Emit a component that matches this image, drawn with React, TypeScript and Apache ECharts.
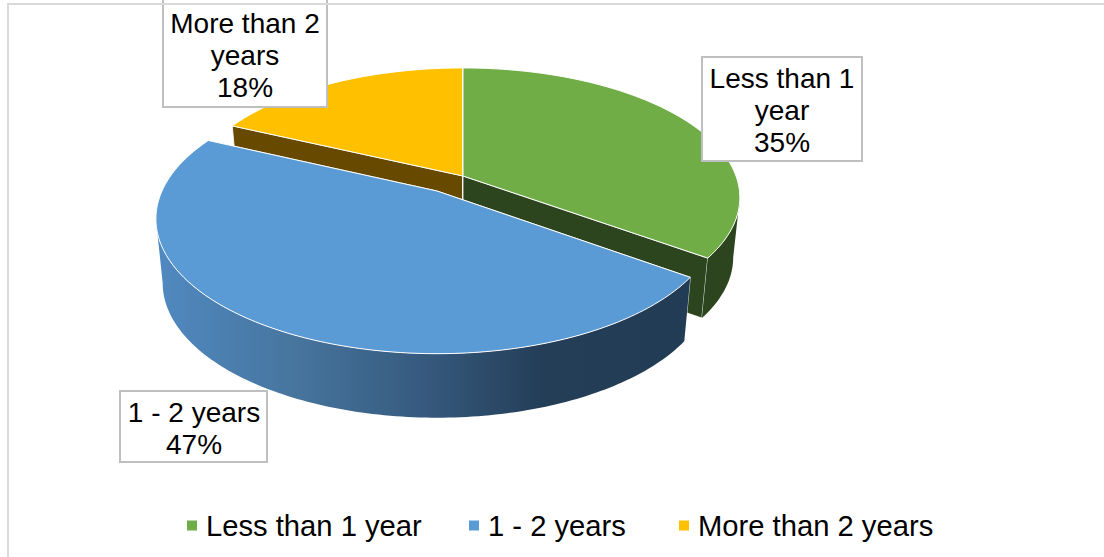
import React, { useEffect, useRef } from "react";
import * as echarts from "echarts";

const sliceNames = ["Less than 1 year", "1 - 2 years", "More than 2 years"];
const sliceValues = [35, 47, 18];
const sliceLabels = ["Less than 1\nyear", "1 - 2 years", "More than 2\nyears"];
const topColors = ["#70ad47", "#5b9bd5", "#ffc000"];
const wallColors = ["#2d451e", "#24405a", "#674a00"];

const FONT = "Liberation Sans";
const BOTTOM_SCALE = 0.976;
// perspective ellipse model, one per exploded position
const geometry = [
  { x: 463, y: 176, depth: 60, k: 0.166, b: 126, c: 273 },
  { x: 437, y: 191, depth: 64, k: 0.207, b: 129, c: 275 },
  { x: 463, y: 176, depth: 60, k: 0.166, b: 126, c: 273 },
];

const total = sliceValues.reduce((a, b) => a + b, 0);

function rim(i: number, deg: number) {
  const g = geometry[i];
  const t = (deg * Math.PI) / 180;
  const u = Math.sin(t);
  const v = -Math.cos(t);
  const d = 1 - g.k * v;
  return [g.x + (g.c * u) / d, g.y + (g.b * v) / d];
}
function down(i: number, p: number[]) {
  const g = geometry[i];
  return [g.x + (p[0] - g.x) * BOTTOM_SCALE, p[1] + g.depth];
}
function arcPoints(i: number, from: number, to: number) {
  const pts: number[][] = [];
  for (let a = from; a < to; a += 1) pts.push(rim(i, a));
  pts.push(rim(i, to));
  return pts;
}

function renderSlice(i: number) {
  return (_params: any, api: any) => {
    const value = api.value(0);
    const before = sliceValues.slice(0, i).reduce((a, b) => a + b, 0);
    const start = (before / total) * 360;
    const end = start + (value / total) * 360;
    const g = geometry[i];
    const arc = arcPoints(i, start, end);
    const apex = [g.x, g.y];
    const edge = "rgba(255,255,255,0.8)";
    const children: any[] = [];

    // radial walls first, so the outer wall covers the part that would show through
    [arc[0], arc[arc.length - 1]].forEach((p) => {
      children.push({
        type: "polygon",
        shape: { points: [apex, p, down(i, p), down(i, apex)] },
        style: { fill: wallColors[i], stroke: edge, lineWidth: 1 },
      });
    });

    // outer wall: only between the silhouette angles, where it faces the viewer
    const sil = (Math.acos(-g.k) * 180) / Math.PI;
    const from = Math.max(start, sil);
    const to = Math.min(end, 360 - sil);
    if (to > from) {
      const top = arcPoints(i, from, to);
      const bottom = top.map((p) => down(i, p)).reverse();
      const wallFill: any =
        i === 1
          ? new echarts.graphic.LinearGradient(0, 0, 1, 0, [
              { offset: 0, color: "#5089c1" },
              { offset: 0.25, color: "#47769f" },
              { offset: 0.5, color: "#365a7e" },
              { offset: 0.72, color: "#243e58" },
              { offset: 1, color: "#233c55" },
            ])
          : wallColors[i];
      children.push({
        type: "polygon",
        shape: { points: [...top, ...bottom] },
        style: { fill: wallFill, stroke: null },
      });
    }

    // top face
    children.push({
      type: "polygon",
      shape: { points: [apex, ...arc] },
      style: { fill: topColors[i], stroke: "#ffffff", lineWidth: 1 },
    });
    return { type: "group", children };
  };
}

const labelBoxes = [
  { x: 702, y: 57, width: 160, height: 104, cx: 782, cy: 110 },
  { x: 120, y: 391, width: 147, height: 71, cx: 194, cy: 428 },
  { x: 163, y: -6, width: 164, height: 113, cx: 245, cy: 55 },
];
const legendLefts = [187, 469, 679];

export default function App() {
  const ref = useRef<HTMLDivElement>(null);
  useEffect(() => {
    document.body.style.margin = "0";
    const chart = echarts.init(ref.current!, undefined, { renderer: "svg" });
    const order = [2, 0, 1];
    const series = order.map((i, n) => ({
      type: "custom",
      name: sliceNames[i],
      coordinateSystem: "none",
      z: 2 + n,
      itemStyle: { color: topColors[i] },
      data: [[sliceValues[i]]],
      renderItem: renderSlice(i),
      silent: true,
    }));
    const graphic: any[] = [
      { type: "line", z: 20, shape: { x1: 8, y1: 4, x2: 1104, y2: 4 }, style: { stroke: "#d9d9d9", lineWidth: 2 } },
      { type: "line", z: 20, shape: { x1: 8, y1: 3, x2: 8, y2: 557 }, style: { stroke: "#d9d9d9", lineWidth: 2 } },
    ];
    labelBoxes.forEach((b, i) => {
      graphic.push({
        type: "rect",
        z: 10,
        shape: { x: b.x, y: b.y, width: b.width, height: b.height },
        style: { fill: "#ffffff", stroke: "#bfbfbf", lineWidth: 2 },
      });
      graphic.push({
        type: "text",
        z: 11,
        x: b.cx,
        y: b.cy,
        style: {
          text: `${sliceLabels[i]}\n${sliceValues[i]}%`,
          fill: "#000000",
          font: `28px "${FONT}"`,
          lineHeight: 32,
          align: "center",
          verticalAlign: "middle",
        },
      });
    });
    chart.setOption({
      animation: false,
      backgroundColor: "#ffffff",
      legend: sliceNames.map((n, i) => ({
        data: [n],
        left: legendLefts[i],
        top: 511,
        padding: 0,
        icon: "rect",
        itemWidth: 10,
        itemHeight: 10,
        selectedMode: false,
        textStyle: { fontFamily: FONT, fontSize: 29.2, color: "#000000", padding: [0, 0, 0, 4] },
      })),
      series,
      graphic,
    });
    return () => chart.dispose();
  }, []);
  return <div ref={ref} style={{ width: 1104, height: 557 }} />;
}
